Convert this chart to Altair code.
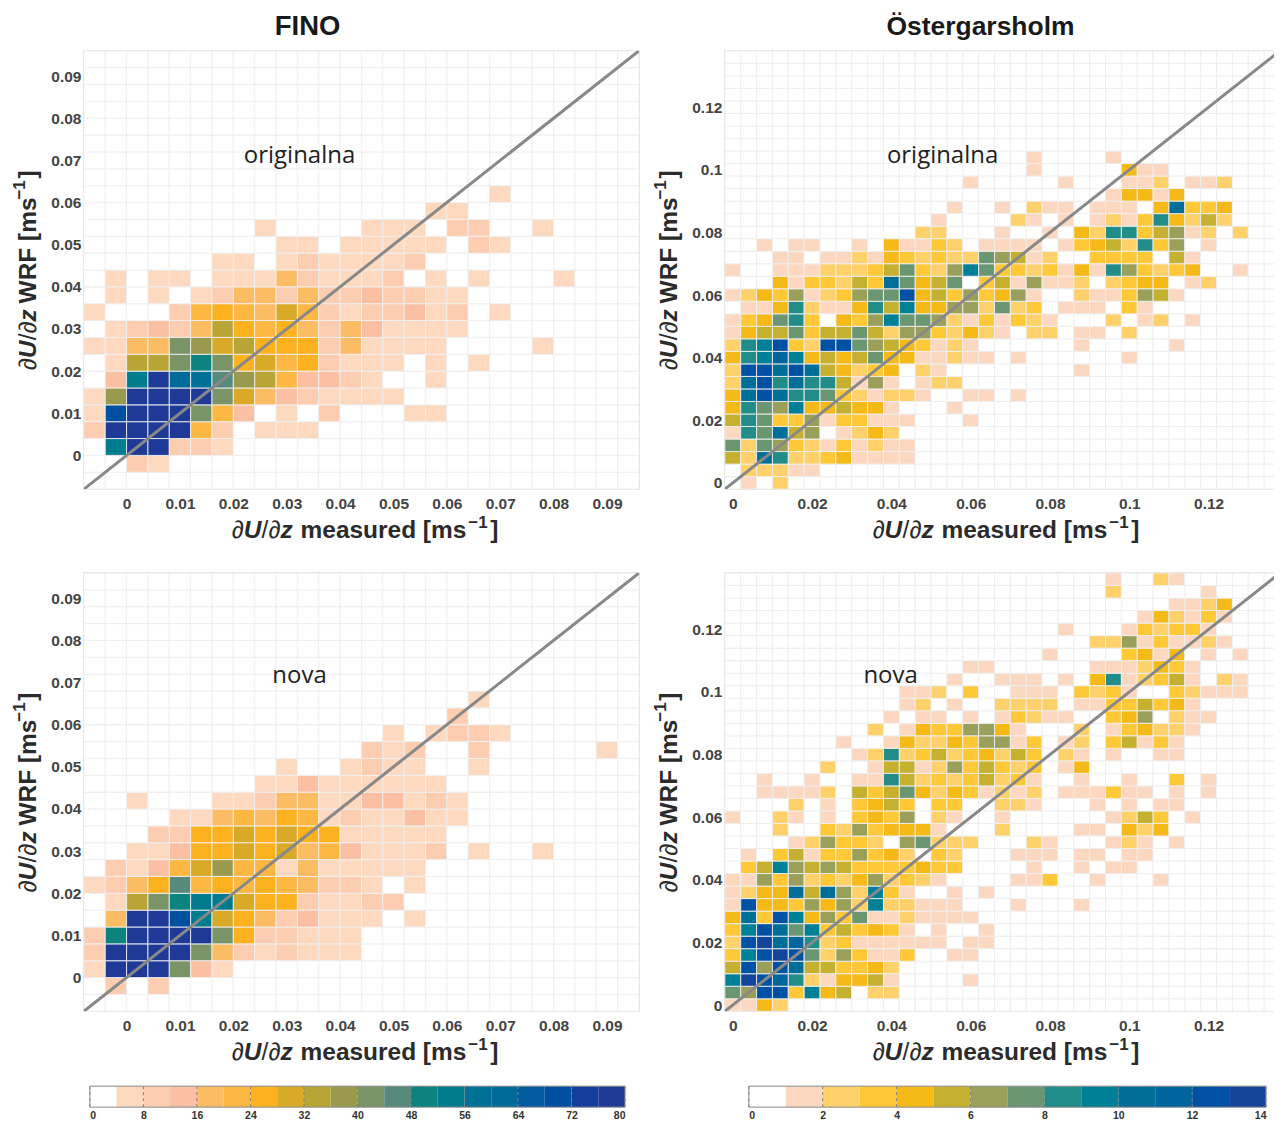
import altair as alt
import pandas as pd

# Each string is a row of histogram cells (bottom row first); each character is a colour-bar class.
FINO_ORIG = [
    "", "0021", "0djj221", "2jjjj520111", "1hjjja53010200011", "19jjjja74321111",
    "03djfeb9853321001", "0188aca675621110101", "1144a97866624111100001",
    "012324865642431111", "10002565475212231201", "010101244242232211",
    "01011011142111201010001", "0000001101211112", "00000000011011111021",
    "0000000010000111022001", "000000000000000011", "00000000000000000001",
]
FINO_NOVA = [
    "", "0202", "1jjja31", "2jjjja4212111", "2cjjjja622111", "04jjhd7642311101",
    "018acdd76621122", "1246b56565422101", "0213579551411111", "0011366767453111201001",
    "00022667676611111", "000011454651211311", "001000112441133121", "00000000113111111",
    "0000000001001211001", "0" * 13 + "212002" + "00000" + "1", "0" * 14 + "101221",
    "0" * 17 + "2", "0" * 18 + "1",
]
OST_ORIG = [
    "0102", "022211", "52a822341111", "727632131211", "187a5601242", "5873361331110001",
    "487694454410001", "4aca887321221001101", "2ac8a88516101220",
    "2ccaca542340210" + "0000000" + "1", "489b9454574411211" + "01" + "000000" + "1",
    "289c32cc76543121" + "000000" + "1" + "00000" + "1",
    "145573557526632" + "421" + "0" + "22" + "0" + "11" + "0" + "2",
    "134783043697762131321000201201", "011482114859446627230111031",
    "12436123677c45363461002113651", "0004133253a74570351611202344012",
    "100111222357326973323141863234001", "000110112143232276512003333051",
    "0010110010411320111101345283601", "000000000000220001001042883561202",
    "0" * 13 + "1" + "0000" + "21" + "01" + "01" + "21384252",
    "0" * 14 + "1" + "00" + "1" + "0" + "2110111" + "04a334",
    "0" * 24 + "14414", "0" * 15 + "1" + "00000" + "1" + "000" + "1120112",
    "0" * 19 + "1" + "00000" + "411", "0" * 19 + "1" + "0000" + "1",
]
OST_NOVA = [
    "1142", "76cc3945022", "9dcb8214451" + "0000" + "1", "5c6ca553342", "39cdc72631130011",
    "2cdab823111111011", "39ca7935343101001", "4a3c946371121111",
    "1c4436462922111" + "000" + "1" + "000" + "1", "1244a5a6293100101",
    "11636232462321" + "0000" + "113" + "00" + "1" + "000" + "1",
    "035965653333433" + "0000" + "1" + "00" + "1" + "0" + "11",
    "010351336342032" + "000" + "111" + "0" + "11" + "0" + "11",
    "0000" + "126332067222" + "000" + "21" + "000" + "12101",
    "000" + "2" + "00" + "32634441" + "000" + "2" + "0000" + "11" + "0" + "424",
    "100210103436021001" + "000000" + "125301",
    "0000" + "2010" + "3453" + "0330" + "0221" + "000" + "1" + "0" + "1" + "0" + "11",
    "0011" + "1120" + "5357" + "4243" + "1212" + "0111" + "3110" + "101",
    "0010" + "0100" + "1185" + "2323" + "5231" + "0010" + "0100" + "301",
    "000000" + "20015512635323014",
    "00000000" + "128235234253" + "021" + "0" + "1" + "00" + "11",
    "0000000" + "1" + "00" + "1422436613012035131",
    "0" * 9 + "2014336641" + "000" + "20134221",
    "0" * 10 + "101101013211003460211",
    "0" * 11 + "1201002222011335341",
    "0" * 11 + "1120300111032310032111",
    "0" * 14 + "1001110104812351021",
    "0" * 15 + "11" + "000000" + "1112431",
    "0" * 20 + "1" + "0000" + "34140101",
    "0" * 23 + "226131121", "0" * 21 + "1" + "000" + "132331",
    "0" * 26 + "142131", "0" * 28 + "1124",
    "0" * 24 + "2" + "00000" + "1", "0" * 24 + "1" + "00" + "21",
]
FINO_TICKS = [0, 0.01, 0.02, 0.03, 0.04, 0.05, 0.06, 0.07, 0.08, 0.09]
OST_TICKS = [0, 0.02, 0.04, 0.06, 0.08, 0.1, 0.12]
FINO_COLORS = ["#ffffff", "#fdd9c0", "#fdcdb2", "#fbc0a4", "#fcbc64", "#fdb844", "#fcb11f", "#d9a928",
               "#b9a535", "#9a9a4f", "#7a9468", "#588a7c", "#0d8380", "#007c8e", "#007196", "#006a98",
               "#005c9e", "#0050a2", "#113f9b", "#1e3a96"]
OST_COLORS = ["#ffffff", "#fdd8c0", "#fed16b", "#fec836", "#f6ba18", "#c6b02f", "#9aa05a", "#6b9672",
              "#218c88", "#008096", "#006e97", "#00659c", "#0051a3", "#15459b"]
FINO_BAR_TICKS = [0, 8, 16, 24, 32, 40, 48, 56, 64, 72, 80]
OST_BAR_TICKS = [0, 2, 4, 6, 8, 10, 12, 14]

SANS = "Liberation Sans"
W, H = 556, 439
one = pd.DataFrame({"o": [0]})


def piece(text, x, y, size=24.5, bold=True, italic=False, angle=0):
    return alt.Chart(one).mark_text(
        text=text, align="left", baseline="alphabetic", font=SANS, fontSize=size,
        fontWeight="bold" if bold else "normal", fontStyle="italic" if italic else "normal",
        color="#2b2b2b", angle=angle,
    ).encode(x=alt.value(x), y=alt.value(y))


def x_title():
    b = H + 49
    x = 148
    return [piece("∂", x, b, bold=False), piece("U", x + 12, b, italic=True), piece("/∂", x + 30, b, bold=False),
            piece("z", x + 49, b, italic=True), piece("measured [ms", x + 69, b),
            piece("−1", x + 237, b - 10, size=17), piece("]", x + 259, b)]


def y_title():
    x = -48
    y = 320
    a = 270
    return [piece("∂", x, y, bold=False, angle=a), piece("U", x, y - 12, italic=True, angle=a),
            piece("/∂", x, y - 30, bold=False, angle=a), piece("z", x, y - 49, italic=True, angle=a),
            piece("WRF [ms", x, y - 67, angle=a), piece("−1", x - 11, y - 171, size=17, angle=a),
            piece("]", x, y - 192, angle=a)]


def panel(rows, step, lo, n, ticks, colors, width_step, note, note_x, note_y, title=None, title_x=0):
    hi = lo + n * step
    recs = []
    for j in range(n):
        row = rows[j] if j < len(rows) else ""
        for k in range(n):
            lvl = int(row[k], 36) if k < len(row) else 0
            recs.append({"x0": lo + k * step, "x1": lo + (k + 1) * step,
                         "y0": lo + j * step, "y1": lo + (j + 1) * step,
                         "count": (lvl + 0.5) * width_step if lvl else 0})
    xs = alt.Scale(domain=[lo, hi], nice=False, zero=False)
    ys = alt.Scale(domain=[lo, hi], nice=False, zero=False)
    thresholds = [width_step * (i + 1) for i in range(len(colors) - 1)]
    axis_common = dict(values=ticks, format=".2~f", grid=False, ticks=False, domain=False, title=None,
                       labelFont=SANS, labelFontSize=15.5, labelFontWeight="bold", labelColor="#444444",
                       labelOverlap=False)
    cells = alt.Chart(pd.DataFrame(recs)).mark_rect(stroke="#eeeeee", strokeWidth=0.9).encode(
        x=alt.X("x0:Q", scale=xs, axis=alt.Axis(labelPadding=7, **axis_common)),
        x2="x1:Q",
        y=alt.Y("y0:Q", scale=ys, axis=alt.Axis(labelPadding=3, **axis_common)),
        y2="y1:Q",
        color=alt.Color("count:Q", legend=None, scale=alt.Scale(type="threshold", domain=thresholds, range=colors)),
    )
    diag = alt.Chart(pd.DataFrame({"a": [lo, hi], "b": [lo, hi]})).mark_line(
        color="#888888", strokeWidth=3, clip=True).encode(
        x=alt.X("a:Q", scale=xs), y=alt.Y("b:Q", scale=ys))
    label = alt.Chart(pd.DataFrame({"a": [note_x], "b": [note_y]})).mark_text(
        text=note, font="Open Sans", fontSize=24, color="#222222", baseline="middle", align="center").encode(
        x=alt.X("a:Q", scale=xs), y=alt.Y("b:Q", scale=ys))
    layers = [cells, diag, label] + x_title() + y_title()
    if title:
        layers.append(alt.Chart(one).mark_text(
            text=title, font=SANS, fontSize=27.5 if len(title) < 6 else 26.5, fontWeight="bold",
            color="#1a1a1a", align="center", baseline="alphabetic").encode(
            x=alt.value(title_x), y=alt.value(-16)))
    return alt.layer(*layers).properties(width=W, height=H, view=alt.ViewConfig(stroke="#d8d8d8", strokeWidth=1.5))


def bar(colors, ticks, maxv, x0, x1):
    n = len(colors)
    stepv = maxv / n
    top, bot = -9, 12
    df = pd.DataFrame({"a": [i * stepv for i in range(n)], "b": [(i + 1) * stepv for i in range(n)],
                       "m": [(i + 0.5) * stepv for i in range(n)]})
    xs = alt.Scale(domain=[0, maxv], range=[x0, x1], nice=False)
    rect = alt.Chart(df).mark_rect().encode(
        x=alt.X("a:Q", scale=xs, axis=alt.Axis(values=ticks, grid=False, ticks=False, domain=False, title=None,
                                               format="d", labelFont=SANS, labelFontSize=10.5, labelFontWeight="bold",
                                               labelColor="#333333", labelPadding=3, labelOverlap=False)),
        x2="b:Q",
        y=alt.value(top), y2=alt.value(bot),
        color=alt.Color("m:Q", legend=None, scale=alt.Scale(
            type="threshold", domain=[(i + 1) * stepv for i in range(n - 1)], range=colors)),
    )
    rules = alt.Chart(pd.DataFrame({"t": ticks})).mark_rule(color="#808080", strokeDash=[3, 3], strokeWidth=1).encode(
        x=alt.X("t:Q", scale=xs), y=alt.value(top), y2=alt.value(bot))
    frame = alt.Chart(pd.DataFrame({"a": [0], "b": [maxv]})).mark_rect(
        fillOpacity=0, stroke="#8a8a8a", strokeWidth=1).encode(
        x=alt.X("a:Q", scale=xs), x2="b:Q", y=alt.value(top), y2=alt.value(bot))
    return alt.layer(rect, rules, frame).properties(width=W, height=bot, view=alt.ViewConfig(stroke=None))


a = panel(FINO_ORIG, 0.004, -0.008, 26, FINO_TICKS, FINO_COLORS, 4, "originalna", 0.0324, 0.0711, "FINO", 224)
b = panel(OST_ORIG, 0.004, -0.002, 35, OST_TICKS, OST_COLORS, 1, "originalna", 0.0529, 0.1045, "Östergarsholm", 256)
c = panel(FINO_NOVA, 0.004, -0.008, 26, FINO_TICKS, FINO_COLORS, 4, "nova", 0.0324, 0.0716)
d = panel(OST_NOVA, 0.004, -0.002, 35, OST_TICKS, OST_COLORS, 1, "nova", 0.0398, 0.1051)
e = bar(FINO_COLORS, FINO_BAR_TICKS, 80, 6, 542)
f = bar(OST_COLORS, OST_BAR_TICKS, 14, 24, 542)

chart = alt.concat(a, b, c, d, e, f, columns=2, spacing={"row": 84, "column": 86}, bounds="flush").resolve_scale(
    color="independent", x="independent", y="independent"
).properties(padding={"left": 2, "top": 3, "right": -8, "bottom": 0}, background="white")

chart.save("out.html", embed_options={"renderer": "svg", "actions": False})
